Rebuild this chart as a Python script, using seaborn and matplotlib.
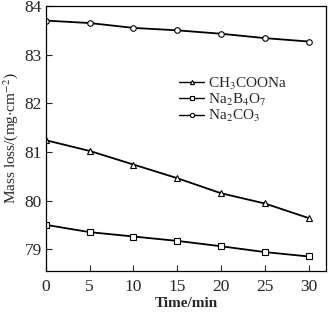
import matplotlib
matplotlib.use("Agg")
import matplotlib.pyplot as plt
import seaborn as sns
import pandas as pd

time_min = [0, 5, 10, 15, 20, 25, 30]
ch3coona = [81.24, 81.02, 80.74, 80.46, 80.15, 79.94, 79.64]
na2b4o7 = [79.50, 79.35, 79.26, 79.17, 79.06, 78.94, 78.85]
na2co3 = [83.70, 83.65, 83.55, 83.50, 83.43, 83.34, 83.27]
labels = [r"CH$_3$COONa", r"Na$_2$B$_4$O$_7$", r"Na$_2$CO$_3$"]
markers = ["^", "s", "o"]

sns.set_theme(style="ticks")
plt.rcParams["font.family"] = ["Liberation Serif", "DejaVu Serif"]
plt.rcParams["mathtext.fontset"] = "stix"

fig = plt.figure(figsize=(3.30, 3.17), dpi=100)
ax = fig.add_axes([0.139, 0.145, 0.849, 0.836])

df = pd.DataFrame({
    "Time": time_min * 3,
    "Mass": ch3coona + na2b4o7 + na2co3,
    "Series": [labels[0]] * 7 + [labels[1]] * 7 + [labels[2]] * 7,
})

sns.lineplot(data=df, x="Time", y="Mass", hue="Series", style="Series",
             markers=dict(zip(labels, markers)), dashes=False,
             palette=["black"] * 3, ax=ax, linewidth=1.3,
             markersize=4, markerfacecolor="white", markeredgecolor="black",
             markeredgewidth=0.8)

ax.set_xlim(0, 32)
ax.set_ylim(78.55, 84)
ax.set_xticks([0, 5, 10, 15, 20, 25, 30])
ax.set_yticks([79, 80, 81, 82, 83, 84])
ax.tick_params(direction="in", labelsize=12.5, length=4, width=0.8, pad=6)
ax.tick_params(axis="y", pad=3)
for s in ax.spines.values():
    s.set_linewidth(0.9)
    s.set_color("black")
ax.set_xlabel("Time/min", fontsize=11, fontweight="bold", labelpad=1)
ax.set_ylabel(r"Mass loss/(mg$\cdot$cm$^{-2}$)", fontsize=11)
ax.yaxis.set_label_coords(-0.092, 0.5)

leg = ax.legend(loc="upper left", bbox_to_anchor=(0.455, 0.76), frameon=False,
                fontsize=11, handlelength=1.6, handletextpad=0.3,
                labelspacing=0.0, borderaxespad=0)
for h in leg.legend_handles:
    h.set_markersize(3)
    h.set_linewidth(1.0)

fig.savefig("out.png", dpi=100)
